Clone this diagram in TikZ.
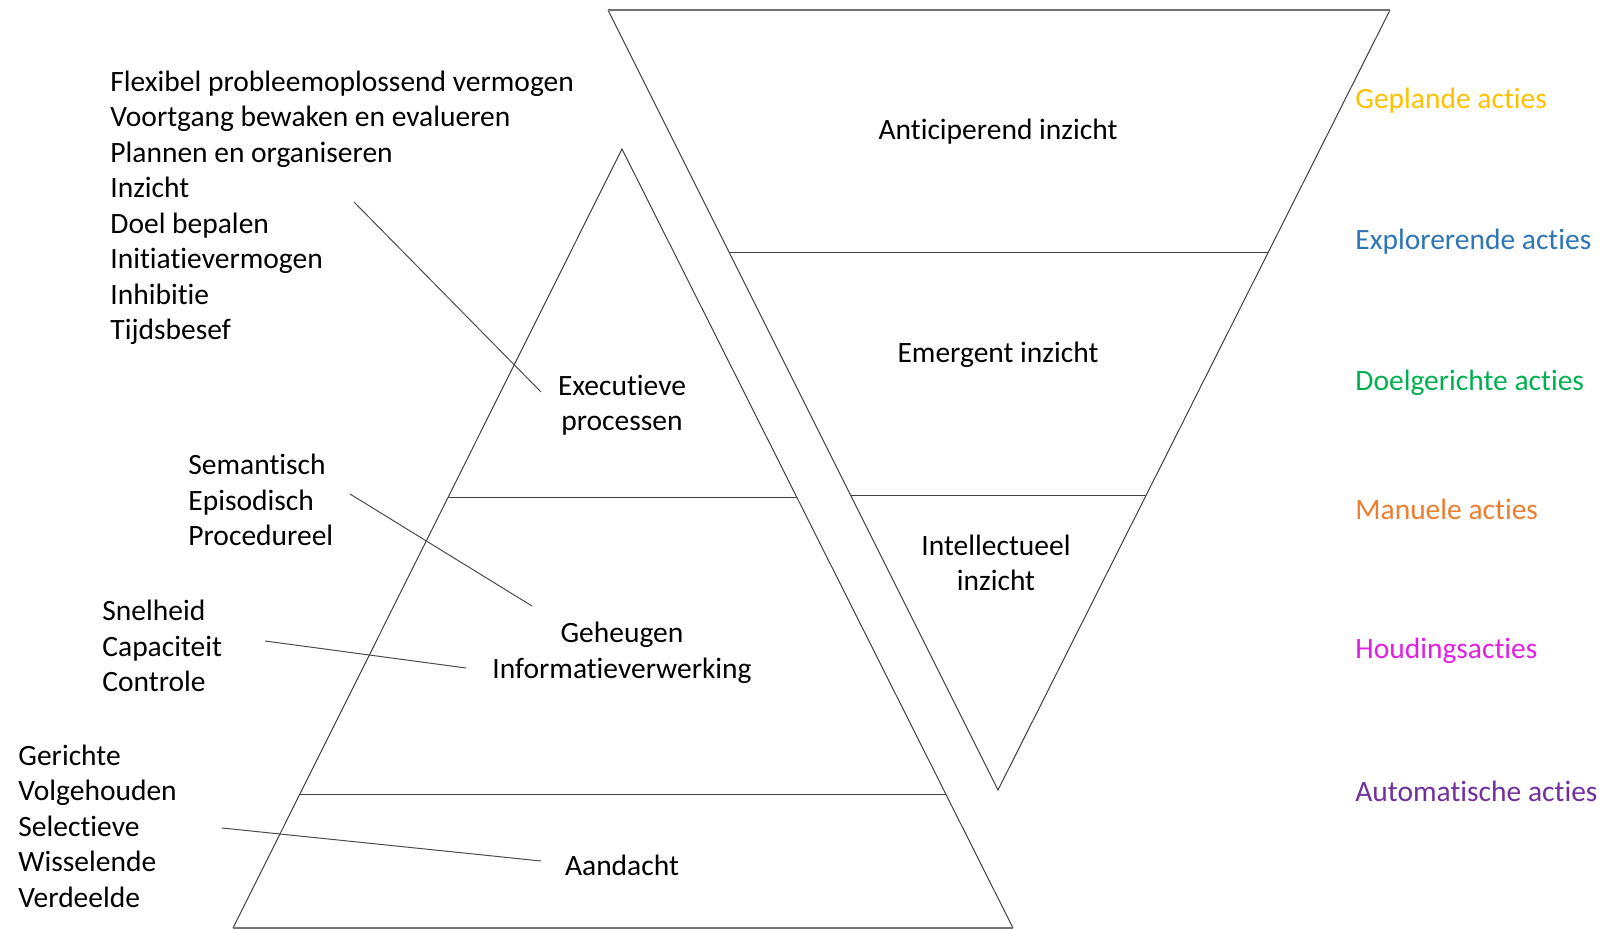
\documentclass[tikz,border=0pt]{standalone}
\usepackage{fontspec}
\setmainfont{Carlito}[Ligatures=NoCommon]
\usetikzlibrary{calc}
\definecolor{cgold}{HTML}{FFC000}
\definecolor{cblue}{HTML}{2E75B6}
\definecolor{cgreen}{HTML}{00B050}
\definecolor{corange}{HTML}{ED7D31}
\definecolor{cmagenta}{HTML}{E01FE0}
\definecolor{cpurple}{HTML}{7030A0}
\begin{document}
\begin{tikzpicture}[x=0.5pt,y=-0.5pt,
  edge/.style={draw=black!75, line width=0.5pt, line join=miter},
  rim/.style={draw=black!55, line width=0.9pt},
  txt/.style={font=\fontsize{14.75}{17.75}\selectfont, inner sep=0pt},
  lbl/.style={txt, align=center},
  lst/.style={txt, align=left, anchor=west},
  act/.style={txt, anchor=west},
  lead/.style={draw=black!70, line width=0.5pt}]
\useasboundingbox (0,0) rectangle (1602,929);

% inverted triangle: levels of insight
\coordinate (it1) at (608,10);
\coordinate (it2) at (1390,10);
\coordinate (it3) at (998,790);
\draw[edge] (it1) -- (it3) -- (it2);
\draw[rim] (it1) -- (it2);
\draw[edge] ($(it1)!0.3103!(it3)$) -- ($(it2)!0.3103!(it3)$);
\draw[edge] ($(it1)!0.6224!(it3)$) -- ($(it2)!0.6224!(it3)$);

% upright triangle: cognitive functions
\coordinate (ut) at (622,149);
\coordinate (ul) at (233,928);
\coordinate (ur) at (1013,928);
\draw[edge] (ul) -- (ut) -- (ur);
\draw[rim] (ul) -- (ur);
\draw[edge] ($(ut)!0.4475!(ul)$) -- ($(ut)!0.4475!(ur)$);
\draw[edge] ($(ut)!0.828!(ul)$) -- ($(ut)!0.828!(ur)$);

% labels inside the inverted triangle
\node[lbl] (antic) at (998,132) {Anticiperend inzicht};
\node[lbl] (emerg) at (998,355) {Emergent inzicht};
\node[lbl] (intel) at (996,563) {Intellectueel\\inzicht};

% labels inside the upright triangle
\node[lbl] (exec) at (622,405) {Executieve\\processen};
\node[lbl] (geh) at (622,653) {Geheugen\\Informatieverwerking};
\node[lbl] (aand) at (622,865) {Aandacht};

% lists on the left
\node[lst] (l1) at (110,208) {Flexibel probleemoplossend vermogen\\Voortgang bewaken en evalueren\\Plannen en organiseren\\Inzicht\\Doel bepalen\\Initiatievermogen\\Inhibitie\\Tijdsbesef};
\node[lst] (l2) at (188,500) {Semantisch\\Episodisch\\Procedureel};
\node[lst] (l3) at (102,646) {Snelheid\\Capaciteit\\Controle};
\node[lst] (l4) at (18,826) {Gerichte\\Volgehouden\\Selectieve\\Wisselende\\Verdeelde};

% leader lines from the lists to the layers
\coordinate (s1) at (354,202);
\coordinate (e1) at (541,392);
\coordinate (s2) at (350,494);
\coordinate (e2) at (532,606);
\coordinate (s3) at (265,641);
\coordinate (e3) at (466,668);
\coordinate (s4) at (222,828);
\coordinate (e4) at (541,861);
\draw[lead] (s1) -- (e1);
\draw[lead] (s2) -- (e2);
\draw[lead] (s3) -- (e3);
\draw[lead] (s4) -- (e4);

% kinds of action on the right
\node[act, text=cgold] (a1) at (1355,101) {Geplande acties};
\node[act, text=cblue] (a2) at (1355,242) {Explorerende acties};
\node[act, text=cgreen] (a3) at (1355,383) {Doelgerichte acties};
\node[act, text=corange] (a4) at (1355,509) {Manuele acties};
\node[act, text=cmagenta] (a5) at (1355,651) {Houdingsacties};
\node[act, text=cpurple] (a6) at (1355,791) {Automatische acties};
\end{tikzpicture}
\end{document}
